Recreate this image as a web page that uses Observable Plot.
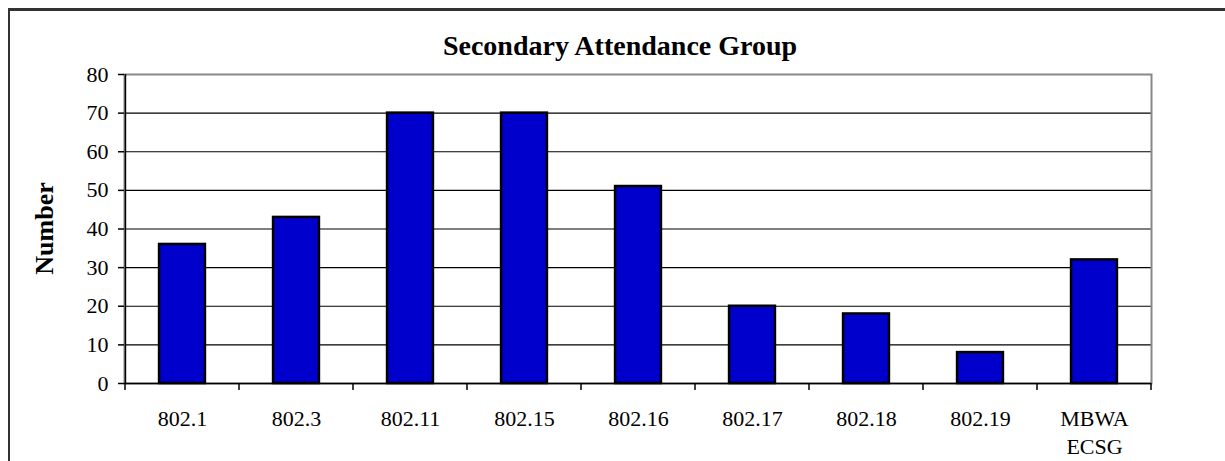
<!DOCTYPE html>
<html>
<head>
<meta charset="utf-8">
<script src="https://cdn.jsdelivr.net/npm/d3@7"></script>
<script src="https://cdn.jsdelivr.net/npm/@observablehq/plot@0.6"></script>
<style>
  html, body { margin: 0; padding: 0; background: #fff; overflow: hidden; width: 1225px; height: 461px; }
  #wrap { position: relative; width: 1225px; height: 461px; }
  #frame { position: absolute; left: 8px; top: 8px; width: 1400px; height: 600px; border-left: 2px solid #333; border-top: 3px solid #333; box-sizing: border-box; }
  #title { position: absolute; left: 0; top: 30px; width: 1240px; text-align: center; font-family: "Liberation Serif", "Times New Roman", serif; font-weight: bold; font-size: 28px; line-height: 32px; color: #000; }
  #chart { position: absolute; left: 0; top: 66px; }
</style>
</head>
<body>
<div id="wrap">
  <div id="frame"></div>
  <div id="title">Secondary Attendance Group</div>
  <div id="chart"></div>
</div>
<script>
const categories = ["802.1", "802.3", "802.11", "802.15", "802.16", "802.17", "802.18", "802.19", "MBWA\nECSG"];
const values = [36, 43, 70, 70, 51, 20, 18, 8, 32];
const yTicks = [0, 10, 20, 30, 40, 50, 60, 70, 80];
const gridValues = [10, 20, 30, 40, 50, 60, 70];
const yLabel = "Number";

const data = categories.map((c, i) => ({category: c, value: values[i]}));

const W = 1225, H = 395;
const ML = 124, MR = 74, MT = 8, MB = 78;
const bandW = (W - ML - MR) / categories.length;
const barW = 46;
const font = '"Liberation Serif", "Times New Roman", serif';

const plot = Plot.plot({
  width: W,
  height: H,
  marginLeft: ML,
  marginRight: MR,
  marginTop: MT,
  marginBottom: MB,
  style: {fontFamily: font, fontSize: "22px", color: "#000", background: "transparent", overflow: "visible"},
  x: {type: "band", domain: categories, padding: 0},
  y: {type: "linear", domain: [0, 80]},
  marks: [
    Plot.ruleY(gridValues, {stroke: "#000", strokeWidth: 1.2}),
    Plot.frame({stroke: "#888", strokeWidth: 2}),
    Plot.barY(data, {x: "category", y: "value", fill: "#0000CC", stroke: "#000", strokeWidth: 2.5, insetLeft: (bandW - barW) / 2, insetRight: (bandW - barW) / 2}),
    Plot.axisY(yTicks, {tickSize: 6, tickPadding: 10, stroke: "#000", strokeWidth: 1.5, label: null, fontSize: 22}),
    Plot.axisX({tickSize: 0, tickPadding: 23, label: null, fontSize: 22, lineHeight: 1.25}),
    Plot.ruleX([categories[0]], {x: d => d, dx: -bandW / 2, y1: 0, y2: 80, stroke: "#000", strokeWidth: 1.5}),
    Plot.ruleY([0], {stroke: "#000", strokeWidth: 1.5})
  ]
});
document.getElementById("chart").appendChild(plot);

const svg = d3.select(plot);
const xScale = plot.scale("x");
const yScale = plot.scale("y");
const y0 = yScale.apply(0);

// boundary tick marks below the category axis
const bounds = categories.map(c => xScale.apply(c)).concat([xScale.apply(categories[categories.length - 1]) + xScale.bandwidth]);
svg.append("g").selectAll("line").data(bounds).join("line")
  .attr("x1", d => d).attr("x2", d => d)
  .attr("y1", y0).attr("y2", y0 + 7)
  .attr("stroke", "#000").attr("stroke-width", 1.5);

// y axis label
svg.append("text")
  .attr("transform", `translate(53, ${(MT + (H - MB)) / 2}) rotate(-90)`)
  .attr("text-anchor", "middle")
  .attr("font-family", font)
  .attr("font-weight", "bold")
  .attr("font-size", "26px")
  .attr("fill", "#000")
  .text(yLabel);
</script>
</body>
</html>
